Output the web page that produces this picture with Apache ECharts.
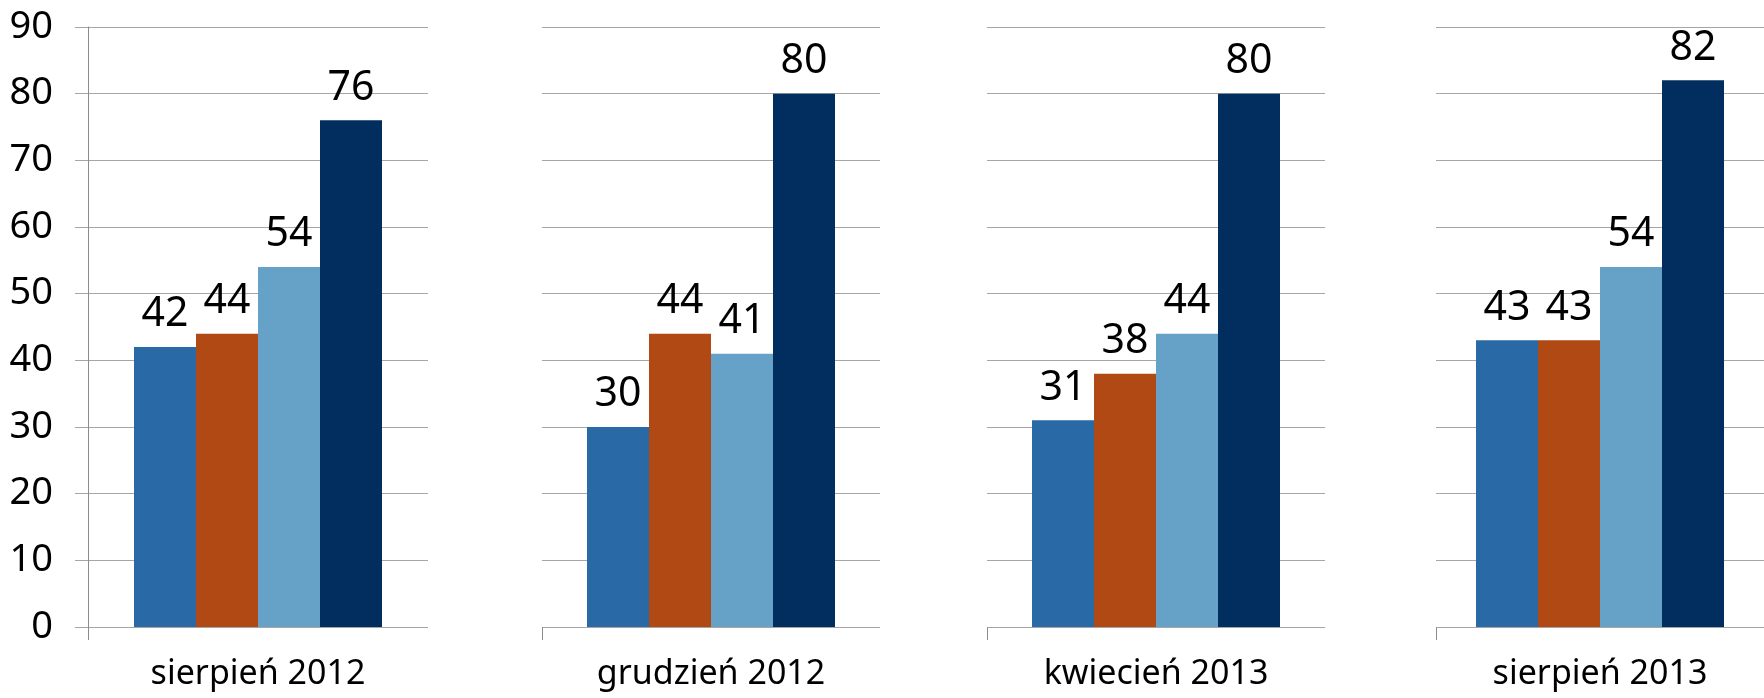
<!DOCTYPE html>
<html>
<head>
<meta charset="utf-8">
<script src="https://cdn.jsdelivr.net/npm/echarts@6/dist/echarts.min.js"></script>
<style>
  html, body { margin: 0; padding: 0; background: #fff; }
  #main { width: 1764px; height: 698px; }
</style>
</head>
<body>
<div id="main"></div>
<script>
// dane
var categories = ['sierpień 2012', 'grudzień 2012', 'kwiecień 2013', 'sierpień 2013'];
var seria1 = [42, 30, 31, 43];
var seria2 = [44, 44, 38, 43];
var seria3 = [54, 41, 44, 54];
var seria4 = [76, 80, 80, 82];
var yTicks = [0, 10, 20, 30, 40, 50, 60, 70, 80, 90];

var colors = ['#2969A6', '#B04913', '#66A1C8', '#012E5F'];
var allSeries = [seria1, seria2, seria3, seria4];
var font = 'Noto Sans';
var gridLeft = [88, 542, 987, 1436];
var gridWidth = [340, 338, 338, 338];

var grids = [], xAxes = [], yAxes = [], series = [];
categories.forEach(function (cat, i) {
	grids.push({ left: gridLeft[i], width: gridWidth[i], top: 27, bottom: 71 });
	xAxes.push({
		type: 'category',
		gridIndex: i,
		position: 'bottom',
		data: [cat],
		axisLine: { show: false },
		axisTick: { show: false },
		axisLabel: { color: '#000', fontSize: 34, fontFamily: font, margin: 30 }
	});
	yAxes.push({
		type: 'value',
		gridIndex: i,
		min: yTicks[0],
		max: yTicks[yTicks.length - 1],
		interval: 10,
		axisLine: { show: i === 0, lineStyle: { color: '#8c8c8c' } },
		axisTick: { show: i === 0, length: 13, lineStyle: { color: '#a6a6a6' } },
		axisLabel: { show: i === 0, color: '#000', fontSize: 38, fontFamily: font, margin: 35 },
		splitLine: { lineStyle: { color: '#a6a6a6', width: 1 } }
	});
	allSeries.forEach(function (vals, k) {
		series.push({
			type: 'bar',
			name: 's' + (k + 1),
			xAxisIndex: i,
			yAxisIndex: i,
			barWidth: 62,
			barGap: 0,
			itemStyle: { color: colors[k] },
			label: {
				show: true,
				position: 'top',
				distance: 12,
				color: '#000',
				fontSize: 41,
				fontFamily: font
			},
			data: [vals[i]]
		});
	});
});
// kreska na lewym brzegu każdego panelu
categories.forEach(function (cat, i) {
	xAxes.push({
		type: 'category',
		gridIndex: i,
		position: 'bottom',
		data: ['', ''],
		boundaryGap: false,
		axisLine: { show: false },
		axisLabel: { show: false },
		axisTick: {
			show: true,
			length: 13,
			interval: function (idx) { return idx === 0; },
			lineStyle: { color: '#8c8c8c' }
		}
	});
});

echarts.init(document.getElementById('main')).setOption({
	animation: false,
	grid: grids,
	xAxis: xAxes,
	yAxis: yAxes,
	series: series
});
</script>
</body>
</html>
